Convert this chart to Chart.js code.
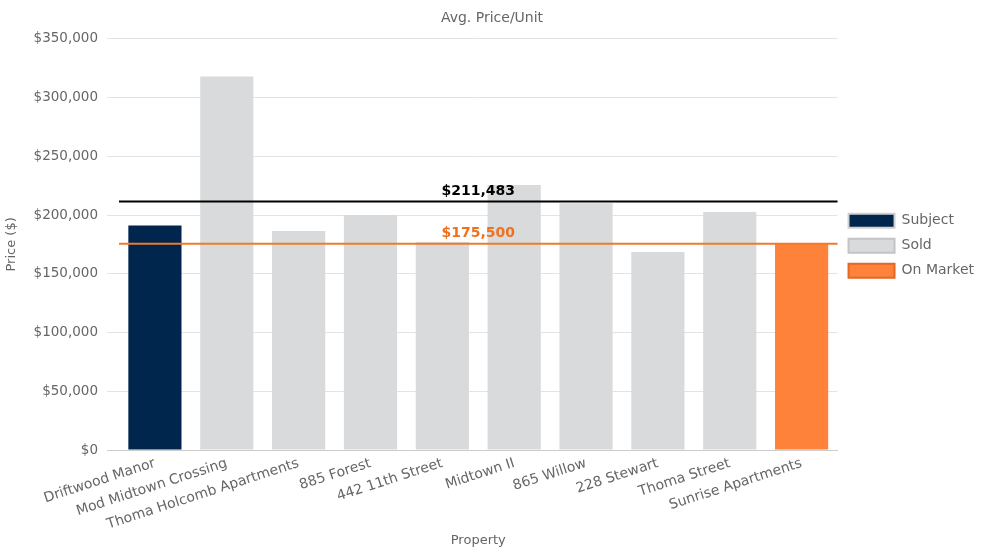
<!DOCTYPE html>
<html>
<head>
<meta charset="utf-8">
<script src="https://cdn.jsdelivr.net/npm/chart.js@4.4.1/dist/chart.umd.min.js"></script>
<style>
    html, body { margin: 0; padding: 0; background: #fff; }
    #wrap { width: 984px; height: 555px; }
</style>
</head>
<body>
<div id="wrap"><canvas id="priceChart"></canvas></div>
<script>
// Data
const properties = ['Driftwood Manor', 'Mod Midtown Crossing', 'Thoma Holcomb Apartments', '885 Forest', '442 11th Street', 'Midtown II', '865 Willow', '228 Stewart', 'Thoma Street', 'Sunrise Apartments'];
const subjectValues = [191000, null, null, null, null, null, null, null, null, null];
const soldValues = [null, 318000, 186500, 200000, 177000, 225500, 210000, 168500, 202500, null];
const onMarketValues = [null, null, null, null, null, null, null, null, null, 175500];
const avgSold = 211483;
const avgOnMarket = 175500;
const yTicks = [0, 50000, 100000, 150000, 200000, 250000, 300000, 350000];

const money = v => '$' + Math.round(v).toLocaleString('en-US');

// Draw reference lines (average sold / on market) with labels
const refLines = {
    id: 'refLines',
    afterDatasetsDraw(chart) {
        const { ctx, chartArea, scales } = chart;
        const lines = [
            { value: avgSold, color: '#000000' },
            { value: avgOnMarket, color: '#f07020', lineColor: '#f07a2a' }
        ];
        ctx.save();
        lines.forEach(l => {
            const y = scales.y.getPixelForValue(l.value);
            ctx.beginPath();
            ctx.strokeStyle = l.lineColor || l.color;
            ctx.lineWidth = 2;
            ctx.moveTo(chartArea.left, y);
            ctx.lineTo(chartArea.right, y);
            ctx.stroke();
            ctx.fillStyle = l.color;
            ctx.font = "bold 14px 'DejaVu Sans', sans-serif";
            ctx.textAlign = 'center';
            ctx.textBaseline = 'bottom';
            ctx.fillText(money(l.value), (chartArea.left + chartArea.right) / 2, y - 3);
        });
        ctx.restore();
    }
};

Chart.defaults.font.family = "'DejaVu Sans', sans-serif";
Chart.defaults.color = '#666';

new Chart(document.getElementById('priceChart'), {
    type: 'bar',
    data: {
        labels: properties,
        datasets: [
            { label: 'Subject', data: subjectValues, backgroundColor: '#00264d', borderColor: '#d0d0d0', borderWidth: 0 },
            { label: 'Sold', data: soldValues, backgroundColor: '#d9dadb', borderColor: '#c4c4c4', borderWidth: 0 },
            { label: 'On Market', data: onMarketValues, backgroundColor: '#fe823a', borderColor: '#e06a25', borderWidth: 0 }
        ]
    },
    options: {
        responsive: true,
        maintainAspectRatio: false,
        animation: false,
        layout: { padding: { left: 0, right: 0, top: 0, bottom: 3 } },
        datasets: { bar: { barPercentage: 0.74, categoryPercentage: 1 } },
        scales: {
            x: {
                stacked: true,
                grid: { display: false },
                border: { color: '#ccc' },
                afterFit: axis => { axis.height = 102; },
                ticks: { color: '#666', font: { size: 14 }, maxRotation: 18, minRotation: 18, autoSkip: false, padding: -3 },
                title: { display: true, text: 'Property', color: '#666', font: { size: 13 }, padding: { top: 4, bottom: 4 } }
            },
            y: {
                stacked: true,
                min: 0,
                max: 350000,
                afterBuildTicks: axis => { axis.ticks = yTicks.map(v => ({ value: v })); },
                afterFit: axis => { axis.width = 119; },
                grid: { color: ctx => ctx.tick && ctx.tick.value === 0 ? '#ccc' : '#e3e3e3', drawTicks: true, tickLength: 12 },
                border: { display: false },
                ticks: { color: '#666', font: { size: 13.5 }, padding: 9, callback: v => money(v) },
                title: { display: true, text: 'Price ($)', color: '#666', font: { size: 13 } }
            }
        },
        plugins: {
            title: { display: true, text: 'Avg. Price/Unit', color: '#666', font: { size: 14, weight: 'normal' }, padding: { top: 10, bottom: 12 } },
            legend: {
                position: 'right',
                align: 'start',
                // blank title used only to push the items down beside the bars
                title: { display: true, text: ' ', font: { size: 14 }, padding: { top: 182, bottom: 4 } },
                labels: {
                    color: '#666',
                    font: { size: 14 },
                    boxWidth: 46,
                    boxHeight: 14,
                    padding: 11,
                    generateLabels: chart => chart.data.datasets.map((ds, i) => ({
                        text: ds.label,
                        fillStyle: ds.backgroundColor,
                        strokeStyle: ds.borderColor,
                        lineWidth: 2,
                        fontColor: '#666',
                        datasetIndex: i,
                        hidden: false
                    }))
                }
            },
            tooltip: { enabled: false }
        }
    },
    plugins: [refLines]
});
</script>
</body>
</html>
